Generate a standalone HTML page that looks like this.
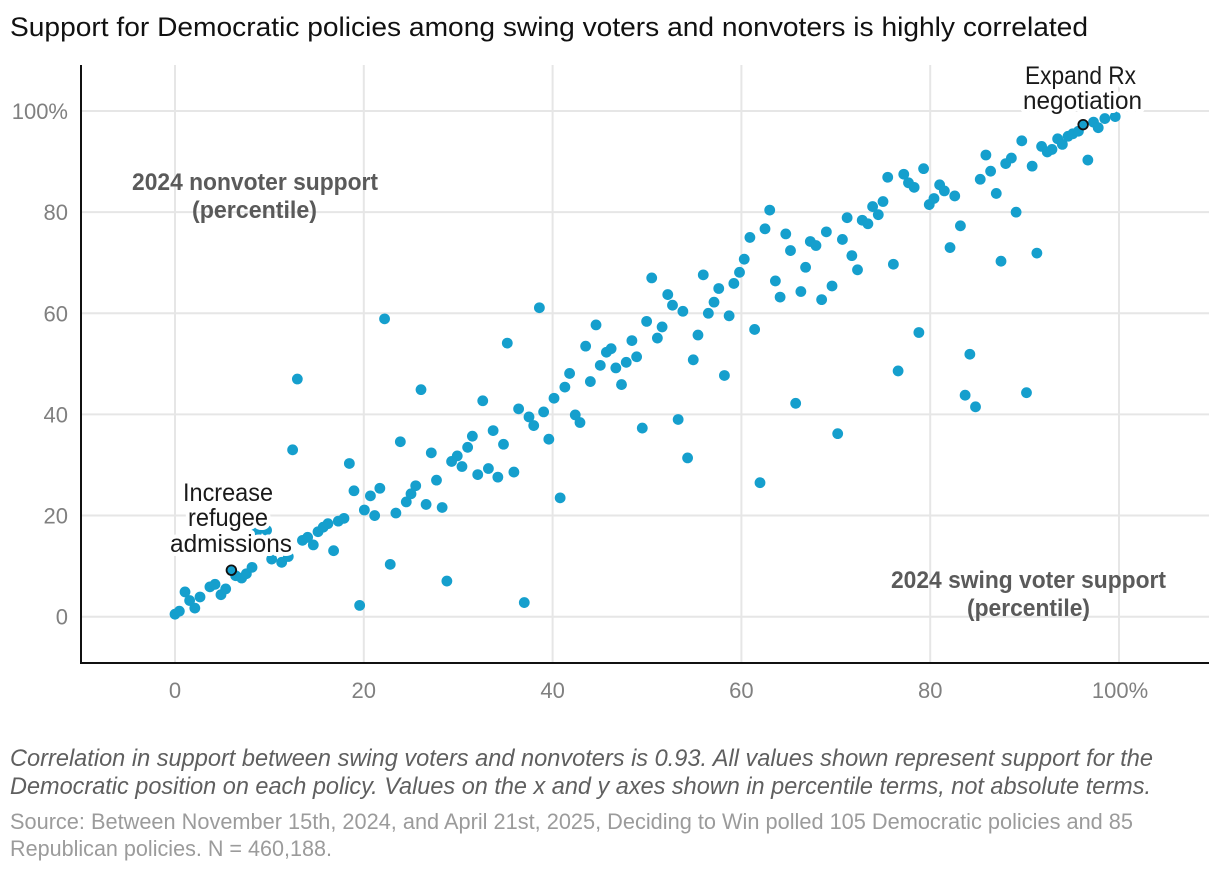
<!DOCTYPE html>
<html lang="en">
<head>
<meta charset="utf-8">
<title>Support for Democratic policies among swing voters and nonvoters</title>
<style>
  html, body { margin: 0; padding: 0; background: #fff; }
  svg { display: block; font-family: "Liberation Sans", sans-serif; }
  .tick { fill: #808080; font-size: 22px; }
  .anno { fill: #1a1a1a; font-size: 25px; paint-order: stroke; stroke: #fff; stroke-width: 8px; stroke-linejoin: round; text-anchor: start; }
  .axis-title { fill: #5a5a5a; font-size: 24px; font-weight: bold; }
  .note { fill: #5f5f5f; font-size: 24px; font-style: italic; }
  .source { fill: #9b9b9b; font-size: 22px; }
</style>
</head>
<body>
<svg id="chart" width="1220" height="872" viewBox="0 0 1220 872" xmlns="http://www.w3.org/2000/svg">
  <rect x="0" y="0" width="1220" height="872" fill="#fff"/>
  <text x="10" y="36" font-size="27" fill="#111" textLength="1078" lengthAdjust="spacingAndGlyphs">Support for Democratic policies among swing voters and nonvoters is highly correlated</text>
  <g id="grid"></g>
  <g id="ticks"></g>
  <g id="points"></g>
  <line x1="81" y1="65" x2="81" y2="664" stroke="#111" stroke-width="2"/>
  <line x1="80" y1="663" x2="1209" y2="663" stroke="#111" stroke-width="2"/>

  <g id="annotations">
    <text class="anno" x="1025" y="84" textLength="111" lengthAdjust="spacingAndGlyphs">Expand Rx</text>
    <text class="anno" x="1023" y="109" textLength="119" lengthAdjust="spacingAndGlyphs">negotiation</text>
    <text class="anno" x="183" y="501" textLength="90" lengthAdjust="spacingAndGlyphs">Increase</text>
    <text class="anno" x="188" y="526" textLength="80" lengthAdjust="spacingAndGlyphs">refugee</text>
    <text class="anno" x="170" y="552" textLength="122" lengthAdjust="spacingAndGlyphs">admissions</text>
  </g>

  <text class="axis-title" x="132" y="190" textLength="246" lengthAdjust="spacingAndGlyphs">2024 nonvoter support</text>
  <text class="axis-title" x="192" y="218" textLength="125" lengthAdjust="spacingAndGlyphs">(percentile)</text>
  <text class="axis-title" x="891" y="588" textLength="275" lengthAdjust="spacingAndGlyphs">2024 swing voter support</text>
  <text class="axis-title" x="967" y="616" textLength="123" lengthAdjust="spacingAndGlyphs">(percentile)</text>

  <text class="note" x="10" y="766" textLength="1143" lengthAdjust="spacingAndGlyphs">Correlation in support between swing voters and nonvoters is 0.93. All values shown represent support for the</text>
  <text class="note" x="10" y="794" textLength="1141" lengthAdjust="spacingAndGlyphs">Democratic position on each policy. Values on the x and y axes shown in percentile terms, not absolute terms.</text>
  <text class="source" x="10" y="829" textLength="1123" lengthAdjust="spacingAndGlyphs">Source: Between November 15th, 2024, and April 21st, 2025, Deciding to Win polled 105 Democratic policies and 85</text>
  <text class="source" x="10" y="856" textLength="322" lengthAdjust="spacingAndGlyphs">Republican policies. N = 460,188.</text>
</svg>
<script>
var xTicks = [0, 20, 40, 60, 80, 100];
var yTicks = [0, 20, 40, 60, 80, 100];
var xTickLabels = ["0", "20", "40", "60", "80", "100%"];
var yTickLabels = ["0", "20", "40", "60", "80", "100%"];

var swingSupport = [0,0.46,1.06,1.55,2.1,2.65,3.7,4.24,4.87,5.37,6.43,7.06,7.56,8.16,8.65,9.7,10.24,11.3,12.0,13.5,14.05,14.65,15.15,15.7,16.2,16.8,17.3,17.9,19.56,20.06,20.7,21.15,21.7,22.8,23.4,24.5,25,25.5,26.6,27.7,28.3,28.8,29.3,29.9,30.4,31,31.5,32.07,12.96,12.46,18.47,18.96,26.06,23.87,27.15,32.6,33.2,33.7,34.2,34.8,35.2,35.9,36.4,37,37.5,38,38.6,39.05,39.6,40.15,40.8,41.3,41.8,42.4,42.9,43.5,44,44.6,45.05,45.7,46.2,46.7,47.3,47.8,48.4,48.9,49.5,49.96,50.5,51.1,51.6,52.2,52.7,53.3,53.8,54.3,54.9,55.4,55.96,56.5,57.1,57.6,58.2,58.7,59.2,59.8,60.3,60.9,61.4,61.97,62.5,63,63.6,64.1,64.7,65.2,65.75,66.3,66.8,67.3,67.9,68.5,69,69.6,70.2,70.7,71.2,71.7,72.3,72.8,73.4,73.9,74.5,75,75.5,76.1,76.6,77.2,77.7,78.3,78.8,79.3,79.9,80.4,81,81.5,82.1,82.6,83.2,83.7,84.2,84.8,85.3,85.9,86.4,87,87.5,88,88.6,89.1,89.7,90.2,90.8,91.3,91.8,92.4,92.9,93.5,94,94.6,95.1,95.7,96.7,97.3,97.8,98.5,99.6,22.2];
var nonvoterSupport = [0.5,1.1,4.9,3.2,1.7,3.9,5.9,6.4,4.35,5.5,8.1,7.65,8.5,9.76,16.8,17.1,11.4,10.75,11.9,15.1,15.7,14.2,16.8,17.7,18.4,13.05,18.9,19.45,2.24,21.1,23.9,20.0,25.4,10.35,20.5,22.7,24.3,25.9,22.2,27,21.6,7.05,30.7,31.8,29.7,33.5,35.7,28.1,47,33,30.3,24.9,44.9,34.6,32.4,42.7,29.3,36.8,27.6,34.1,54.1,28.6,41.1,2.8,39.5,37.8,61.1,40.5,35.1,43.2,23.5,45.4,48.1,39.9,38.4,53.5,46.5,57.7,49.7,52.3,53,49.2,45.9,50.3,54.6,51.4,37.3,58.4,67,55.1,57.3,63.7,61.6,39,60.4,31.4,50.8,55.7,67.6,60,62.2,64.9,47.7,59.5,65.9,68.1,70.7,75,56.8,26.5,76.7,80.4,66.4,63.2,75.7,72.4,42.2,64.3,69.1,74.2,73.4,62.7,76.1,65.4,36.2,74.6,78.9,71.4,68.6,78.4,77.7,81.1,79.5,82.1,86.9,69.7,48.6,87.5,85.8,84.9,56.2,88.6,81.5,82.7,85.4,84.2,73,83.2,77.3,43.8,51.9,41.5,86.5,91.3,88.1,83.7,70.3,89.6,90.7,80,94.1,44.3,89.1,71.9,93,91.9,92.4,94.5,93.4,95,95.5,96,90.3,97.8,96.7,98.5,98.9,58.9];

var highlightSwing = [5.97, 96.2];
var highlightNonvoter = [9.2, 97.3];

var SVGNS = "http://www.w3.org/2000/svg";
function xScale(v) { return 175 + v * 9.44; }
function yScale(v) { return 616.7 - v * 5.057; }

var gridG = document.getElementById("grid");
var ticksG = document.getElementById("ticks");
var pointsG = document.getElementById("points");

yTicks.forEach(function (t, i) {
  var ln = document.createElementNS(SVGNS, "line");
  
  
  ln.setAttribute("x1", 81);
  ln.setAttribute("x2", 1209);
  ln.setAttribute("y1", yScale(t));
  ln.setAttribute("y2", yScale(t));
  ln.setAttribute("stroke", "#e6e6e6");
  ln.setAttribute("stroke-width", 2);
  gridG.appendChild(ln);

  var tx = document.createElementNS(SVGNS, "text");
  
  
  tx.setAttribute("class", "tick");
  tx.setAttribute("x", 68);
  tx.setAttribute("y", yScale(t) + 8);
  tx.setAttribute("text-anchor", "end");
  tx.textContent = yTickLabels[i];
  ticksG.appendChild(tx);
});

xTicks.forEach(function (t, i) {
  var ln = document.createElementNS(SVGNS, "line");
  
  
  ln.setAttribute("x1", xScale(t));
  ln.setAttribute("x2", xScale(t));
  ln.setAttribute("y1", 65);
  ln.setAttribute("y2", 663);
  ln.setAttribute("stroke", "#e6e6e6");
  ln.setAttribute("stroke-width", 2);
  gridG.appendChild(ln);

  var tx = document.createElementNS(SVGNS, "text");
  
  
  tx.setAttribute("class", "tick");
  tx.setAttribute("x", xScale(t) + (t === 100 ? 1 : 0));
  tx.setAttribute("y", 698);
  tx.setAttribute("text-anchor", "middle");
  tx.textContent = xTickLabels[i];
  ticksG.appendChild(tx);
});

swingSupport.forEach(function (v, i) {
  var c = document.createElementNS(SVGNS, "circle");
  
  
  c.setAttribute("cx", xScale(v));
  c.setAttribute("cy", yScale(nonvoterSupport[i]));
  c.setAttribute("r", 5.4);
  c.setAttribute("fill", "#159fcd");
  pointsG.appendChild(c);
});

highlightSwing.forEach(function (v, i) {
  var c = document.createElementNS(SVGNS, "circle");
  
  
  c.setAttribute("cx", xScale(v));
  c.setAttribute("cy", yScale(highlightNonvoter[i]));
  c.setAttribute("r", 4.8);
  c.setAttribute("fill", "#159fcd");
  c.setAttribute("stroke", "#111");
  c.setAttribute("stroke-width", 1.8);
  pointsG.appendChild(c);
});
</script>
</body>
</html>
